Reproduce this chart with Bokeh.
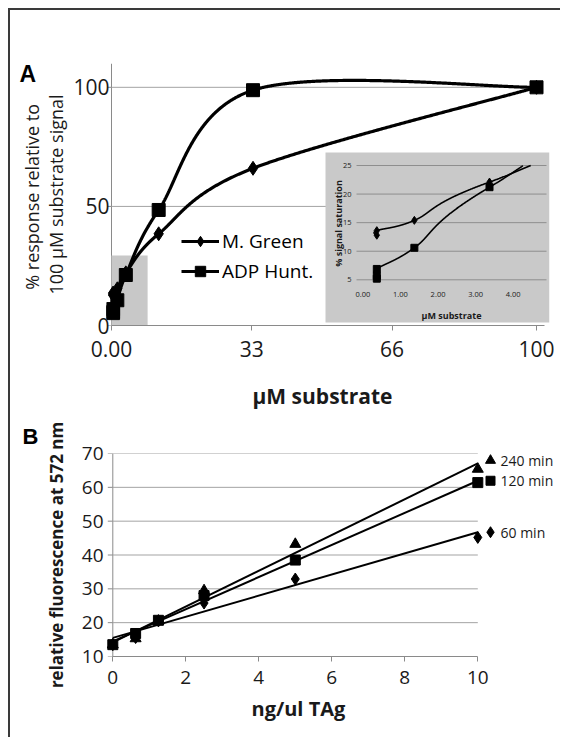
import numpy as np
from bokeh.plotting import figure
from bokeh.models import Range1d, FixedTicker, Legend, LegendItem, Title
from bokeh.layouts import column
from bokeh.embed import file_html
from bokeh.resources import INLINE
from bokeh.core.properties import value

# ---------------- data : panel A ----------------
A_SERIES = ["M. Green", "ADP Hunt."]
A_X_MG = [0.37, 0.37, 1.37, 3.37, 11.1, 33.3, 100]
A_Y_MG = [12.8, 13.6, 15.4, 22.1, 38.5, 66.0, 100]
A_X_ADP = [0.37, 0.37, 0.37, 1.37, 3.37, 11.1, 33.3, 100]
A_Y_ADP = [5.2, 5.7, 6.9, 10.6, 21.2, 48.5, 98.8, 100]
A_X_TICKS = [0, 33, 66, 100]
A_X_TICK_LABELS = ["0.00", "33", "66", "100"]
A_Y_TICKS = [0, 50, 100]
A_GRID_Y = [50, 100]
ZOOM_BOX_X = [0, 8.5]
ZOOM_BOX_Y = [0, 29.4]
INSET_X_TICKS = [0, 1, 2, 3, 4]
INSET_X_TICK_LABELS = ["0.00", "1.00", "2.00", "3.00", "4.00"]
INSET_Y_TICKS = [5, 10, 15, 20, 25]

# ---------------- data : panel B ----------------
B_SERIES = ["240 min", "120 min", "60 min"]
B_X = [0, 0.625, 1.25, 2.5, 5, 10]
B_Y_240 = [13.5, 15.3, 20.5, 29.5, 43.2, 65.4]
B_Y_120 = [13.5, 16.8, 20.7, 28.0, 38.5, 61.4]
B_Y_60 = [13.5, 15.6, 20.5, 25.8, 32.9, 45.2]
B_X_TICKS = [0, 2, 4, 6, 8, 10]
B_Y_TICKS = [10, 20, 30, 40, 50, 60, 70]

FONT = "Open Sans"
AXIS_C = "#8a8a8a"
GRID_C = "#a3a3a3"
TXT_C = "#1a1a1a"
X_ORIGIN = 14          # page x where the figures start
Y_ORIGIN = 10          # page y where the figures start


def smooth(xs, ys, n=300):
    """Excel-like smoothed line (Catmull-Rom Bezier) through the points."""
    P = np.column_stack([xs, ys]).astype(float)
    m = len(P)
    out = []
    t = np.linspace(0, 1, n)[:, None]
    for i in range(m - 1):
        p0 = P[max(i - 1, 0)]
        p1 = P[i]
        p2 = P[i + 1]
        p3 = P[min(i + 2, m - 1)]
        c1 = p1 + (p2 - p0) / 6.0
        c2 = p2 - (p3 - p1) / 6.0
        seg = (1 - t) ** 3 * p1 + 3 * (1 - t) ** 2 * t * c1 + 3 * (1 - t) * t ** 2 * c2 + t ** 3 * p2
        out.append(seg if i == 0 else seg[1:])
    arr = np.vstack(out)
    return arr[:, 0], arr[:, 1]


def style_axis(ax, size):
    ax.axis_line_color = AXIS_C
    ax.major_tick_line_color = AXIS_C
    ax.minor_tick_line_color = None
    ax.major_tick_in = 0
    ax.major_tick_out = 5
    ax.major_label_text_font = FONT
    ax.major_label_text_font_size = size
    ax.major_label_text_color = TXT_C
    ax.axis_label_text_font = FONT
    ax.axis_label_text_color = TXT_C


def style_title(t, text, offset, standoff, font, size):
    t.text = text
    t.align = "left"
    t.offset = offset
    t.standoff = standoff
    t.text_font = font
    t.text_font_style = "bold"
    t.text_font_size = size
    t.text_color = "black"


# ================= panel A =================
AF_L, AF_R, AF_T, AF_B = 110, 553, 63, 325     # frame in page px
A_BOTTOM = 371                                 # page y where figure A ends
A_X0, A_KX, A_KY = 115, 4.25, 2.3818           # x=0 px, px per unit
pA = figure(frame_width=AF_R - AF_L, frame_height=AF_B - AF_T,
            min_border_left=AF_L - X_ORIGIN, min_border_right=558 - AF_R,
            min_border_top=AF_T - Y_ORIGIN, min_border_bottom=A_BOTTOM - AF_B,
            x_range=Range1d((AF_L - A_X0) / A_KX, (AF_R - A_X0) / A_KX),
            y_range=Range1d(0, (AF_B - AF_T) / A_KY),
            output_backend="svg", toolbar_location=None)
pA.outline_line_color = None
pA.xgrid.visible = False
pA.ygrid.visible = False

style_axis(pA.xaxis[0], "21px")
style_axis(pA.yaxis[0], "21px")
pA.xaxis.ticker = FixedTicker(ticks=A_X_TICKS)
pA.xaxis.major_label_overrides = {k: v for k, v in zip(A_X_TICKS, A_X_TICK_LABELS)}
pA.xaxis.bounds = (0, 101.9)
pA.xaxis.major_label_standoff = 10
pA.yaxis.ticker = FixedTicker(ticks=A_Y_TICKS)
pA.yaxis.axis_line_color = None
pA.yaxis.major_tick_line_color = None
pA.yaxis.major_tick_out = 0
pA.yaxis.major_label_standoff = -3
pA.yaxis.axis_label = "% response relative  to\n100 µM substrate signal"
pA.yaxis.axis_label_text_font_style = "normal"
pA.yaxis.axis_label_text_font_size = "18px"
pA.yaxis.axis_label_text_line_height = 1.0
pA.yaxis.axis_label_standoff = 2

# y axis line and ticks drawn at x = 0
pA.segment(x0=0, x1=0, y0=0, y1=pA.y_range.end, line_color=AXIS_C, line_width=1)
pA.segment(x0=-4 / A_KX, x1=0, y0=A_Y_TICKS, y1=A_Y_TICKS, line_color=AXIS_C, line_width=1)
# grid lines
pA.segment(x0=0, x1=100.7, y0=A_GRID_Y, y1=A_GRID_Y, line_color=GRID_C, line_width=1)
# zoomed region marker
pA.quad(left=ZOOM_BOX_X[0], right=ZOOM_BOX_X[1], bottom=ZOOM_BOX_Y[0], top=ZOOM_BOX_Y[1],
        fill_color="#c8c8c8", line_color=None)

sxG, syG = smooth(A_X_MG, A_Y_MG)
sxA, syA = smooth(A_X_ADP, A_Y_ADP)
lineG = pA.line(sxG, syG, line_color="black", line_width=3.2)
lineA = pA.line(sxA, syA, line_color="black", line_width=3.2)
scatG = pA.scatter(A_X_MG, A_Y_MG, marker="diamond", size=14, color="black")
scatA = pA.scatter(A_X_ADP, A_Y_ADP, marker="square", size=13, color="black")

legA = Legend(items=[LegendItem(label=A_SERIES[0], renderers=[lineG, scatG]),
                     LegendItem(label=A_SERIES[1], renderers=[lineA, scatA])],
              location=(183 - AF_L + 2, 41))
legA.glyph_width = 38
legA.glyph_height = 26
legA.label_height = 26
legA.spacing = 4
legA.padding = 0
legA.margin = 0
legA.label_standoff = 3
legA.label_text_font = FONT
legA.label_text_font_size = "19px"
legA.label_text_color = "black"
legA.border_line_color = None
legA.background_fill_alpha = 0
pA.add_layout(legA, "center")

# ---- inset (own coordinate system inside the frame) ----
IN_X0, IN_KX, IN_Y5, IN_KY = 366.4, 37.57, 279.3, 5.715


def ix(px):
    return (px - IN_X0) / IN_KX


def iy(py):
    return 5 + (IN_Y5 - py) / IN_KY


pA.extra_x_ranges = {"ix": Range1d(ix(AF_L), ix(AF_R))}
pA.extra_y_ranges = {"iy": Range1d(iy(AF_B), iy(AF_T))}
R = dict(x_range_name="ix", y_range_name="iy")
IX_L, IX_R = ix(360), ix(550)
IY_MIN, IY_MAX = INSET_Y_TICKS[0], INSET_Y_TICKS[-1]

pA.quad(left=ix(329), right=ix(553), bottom=iy(322), top=iy(152),
        fill_color="#c9c9c9", line_color=None, **R)
pA.segment(x0=IX_L, x1=IX_R, y0=INSET_Y_TICKS, y1=INSET_Y_TICKS,
           line_color="#8e8e8e", line_width=1, **R)
pA.text(x=IX_L, y=INSET_Y_TICKS, text=[str(v) for v in INSET_Y_TICKS], x_offset=-5,
        text_align="right", text_baseline="middle", text_font=value(FONT),
        text_font_size=value("7.5px"), text_color=TXT_C, **R)
pA.text(x=INSET_X_TICKS, y=IY_MIN, text=INSET_X_TICK_LABELS, y_offset=15,
        text_align="center", text_baseline="middle", text_font=value(FONT),
        text_font_size=value("7.5px"), text_color=TXT_C, **R)
pA.text(x=ix(455), y=iy(315), text=["µM substrate"], text_align="center",
        text_baseline="middle", text_font=value(FONT), text_font_style="bold",
        text_font_size=value("9px"), text_color=TXT_C, **R)
pA.text(x=ix(341.7), y=iy(223), text=["% signal saturation"], angle=np.pi / 2,
        text_align="center", text_baseline="middle", text_font=value(FONT),
        text_font_style="bold", text_font_size=value("9px"), text_color=TXT_C, **R)


def clip(sx, sy):
    m = (sx >= IX_L) & (sx <= IX_R) & (sy >= IY_MIN) & (sy <= IY_MAX)
    return np.where(m, sx, np.nan), np.where(m, sy, np.nan)


cx, cy = clip(sxG, syG)
pA.line(cx, cy, line_color="black", line_width=1.6, **R)
cx, cy = clip(sxA, syA)
pA.line(cx, cy, line_color="black", line_width=1.6, **R)
mg = [(x, y) for x, y in zip(A_X_MG, A_Y_MG) if x <= IX_R and y <= IY_MAX]
ad = [(x, y) for x, y in zip(A_X_ADP, A_Y_ADP) if x <= IX_R and y <= IY_MAX]
pA.scatter([a for a, b in mg], [b for a, b in mg], marker="diamond", size=8, color="black", **R)
pA.scatter([a for a, b in ad], [b for a, b in ad], marker="square", size=7, color="black", **R)

style_title(pA.title, "A", 23 - AF_L, -46, "Liberation Sans", "23px")

# ================= panel B =================
BF_L, BF_R, BF_T, BF_B = 108, 564, 453, 656
B_X0, B_KX = 114.3, 36.5
B_KY = (BF_B - BF_T) / (B_Y_TICKS[-1] - B_Y_TICKS[0])
pB = figure(frame_width=BF_R - BF_L, frame_height=BF_B - BF_T,
            min_border_left=BF_L - X_ORIGIN, min_border_right=0,
            min_border_top=BF_T - A_BOTTOM, min_border_bottom=81,
            x_range=Range1d((BF_L - B_X0) / B_KX, (BF_R - B_X0) / B_KX),
            y_range=Range1d(B_Y_TICKS[0], B_Y_TICKS[-1]),
            output_backend="svg", toolbar_location=None)
pB.outline_line_color = None
pB.xgrid.visible = False
pB.ygrid.visible = False
style_axis(pB.xaxis[0], "19px")
style_axis(pB.yaxis[0], "19px")
pB.xaxis.ticker = FixedTicker(ticks=B_X_TICKS)
pB.xaxis.bounds = (B_X_TICKS[0], B_X_TICKS[-1])
pB.xaxis.major_label_standoff = 9
pB.yaxis.ticker = FixedTicker(ticks=B_Y_TICKS)
pB.yaxis.axis_line_color = None
pB.yaxis.major_tick_line_color = None
pB.yaxis.major_tick_out = 0
pB.yaxis.major_label_standoff = 3
pB.yaxis.axis_label = "relative fluorescence at 572 nm"
pB.yaxis.axis_label_text_font_style = "bold"
pB.yaxis.axis_label_text_font_size = "17px"
pB.yaxis.axis_label_standoff = 11

# x-axis title of panel B
pB.add_layout(Title(text="ng/ul TAg", align="left", offset=253 - BF_L, standoff=12,
                    text_font=FONT, text_font_style="bold", text_font_size="20px",
                    text_color=TXT_C), "below")
# panel letter "B" sits right above B's frame
tB = Title()
style_title(tB, "B", 24 - BF_L, 10, "Liberation Sans", "22px")
pB.add_layout(tB, "above")
# x-axis title of panel A lies in the band between the two panels
style_title(pB.title, "µM substrate", 254 - BF_L, 14, FONT, "21px")
pB.title.text_color = TXT_C

pB.segment(x0=0, x1=0, y0=B_Y_TICKS[0], y1=B_Y_TICKS[-1], line_color=AXIS_C, line_width=1)
pB.segment(x0=-5 / B_KX, x1=0, y0=B_Y_TICKS, y1=B_Y_TICKS, line_color=AXIS_C, line_width=1)
pB.segment(x0=B_X_TICKS[0], x1=B_X_TICKS[-1], y0=B_Y_TICKS[1:], y1=B_Y_TICKS[1:],
           line_color=GRID_C, line_width=1)

LEG_X_B = (492 - B_X0) / B_KX
bx = np.array(B_X, dtype=float)
for ys in [B_Y_60, B_Y_120, B_Y_240]:
    k, b = np.polyfit(bx, np.array(ys), 1)
    pB.line([bx.min(), bx.max()], [b + k * bx.min(), b + k * bx.max()], line_color="black", line_width=2)

for ys, mk, sz, name, nudge in [(B_Y_60, "diamond", 12, B_SERIES[2], 0),
                                (B_Y_120, "square", 10, B_SERIES[1], 0),
                                (B_Y_240, "triangle", 11, B_SERIES[0], 3)]:
    pB.scatter(B_X, ys, marker=mk, size=sz, color="black")
    k, b = np.polyfit(bx, np.array(ys), 1)
    yend = b + k * bx.max() + nudge / B_KY
    pB.scatter([LEG_X_B], [yend], marker=mk, size=sz - 1, color="black")
    pB.text(x=[LEG_X_B], y=[yend], text=[name], x_offset=10, text_align="left",
            text_baseline="middle", text_font=value(FONT), text_font_size=value("14px"),
            text_color=TXT_C)

layout = column(pA, pB, spacing=0,
                styles={"margin-left": "8px", "margin-top": "8px",
                        "border-left": "2px solid #3a3a3a", "border-top": "2px solid #3a3a3a"})

open("out.html", "w").write(file_html(layout, INLINE))
